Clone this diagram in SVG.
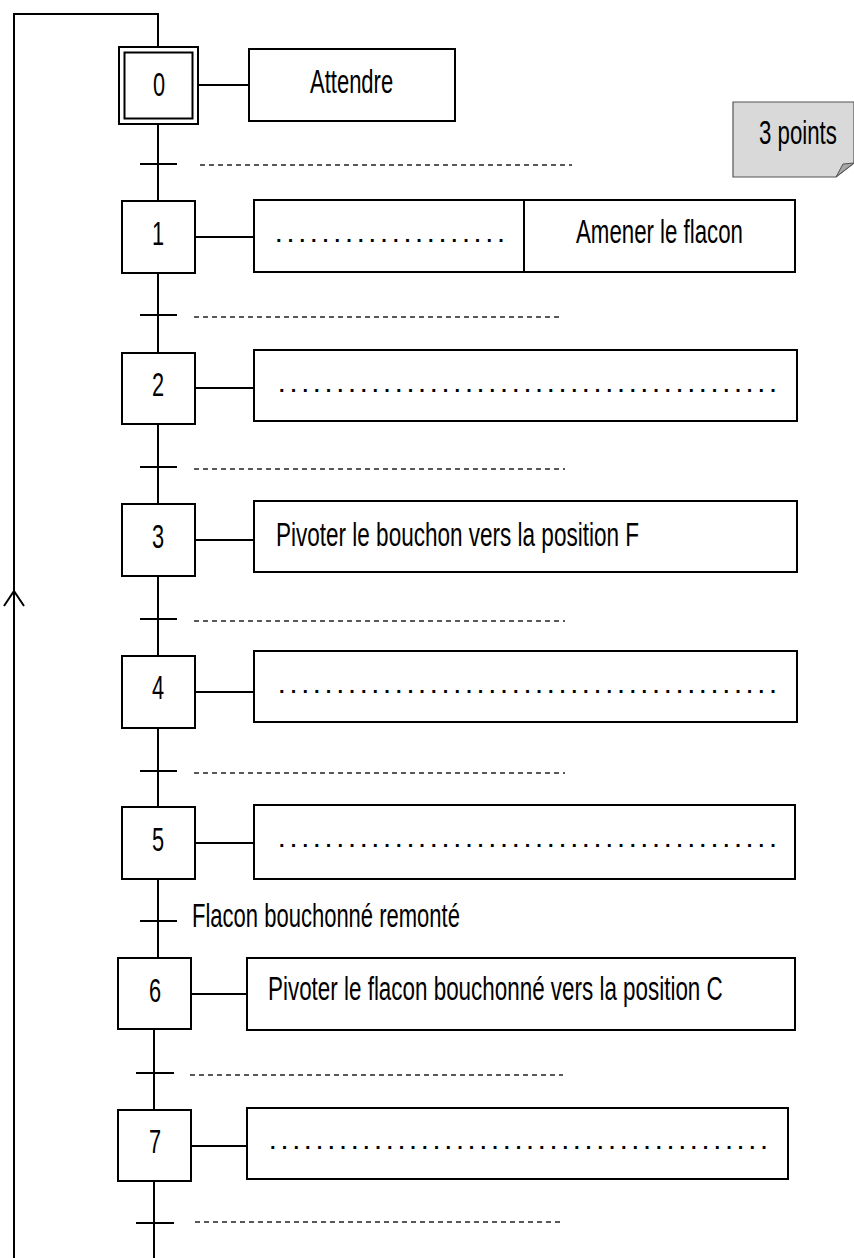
<svg xmlns="http://www.w3.org/2000/svg" width="854" height="1258" viewBox="0 0 854 1258">
<style>
.ln{fill:none;stroke:#000;stroke-width:2}
.bx{fill:#fff;stroke:#000;stroke-width:2}
.dash{fill:none;stroke:#222;stroke-width:1.3;stroke-dasharray:5 4}
.t{font-family:"Liberation Sans","DejaVu Sans",sans-serif;font-size:34px;fill:#000}
.num{font-family:"Liberation Sans","DejaVu Sans",sans-serif;font-size:33px;fill:#000;text-anchor:middle}
.dots{font-family:"Liberation Sans","DejaVu Sans",sans-serif;font-size:20px;font-weight:bold;fill:#000;letter-spacing:6.14px}
.lbl{font-family:"Liberation Sans","DejaVu Sans",sans-serif;font-size:33px;fill:#000}
</style>
<defs>
<marker id="arr" markerWidth="20" markerHeight="24" refX="17" refY="12" orient="auto" markerUnits="userSpaceOnUse" viewBox="0 0 20 24">
<path d="M2,2 L17,12 L2,22" fill="none" stroke="#000" stroke-width="2"/>
</marker>
</defs>
<g id="connectors">
<polyline class="ln" points="14,1258 14,14 158,14 158,47"/>
<line class="ln" x1="14" y1="900" x2="14" y2="591" marker-end="url(#arr)"/>
<line class="ln" x1="158" y1="124" x2="158" y2="201"/>
<line class="ln" x1="158" y1="273" x2="158" y2="353"/>
<line class="ln" x1="158" y1="424" x2="158" y2="504"/>
<line class="ln" x1="158" y1="576" x2="158" y2="656"/>
<line class="ln" x1="158" y1="728" x2="158" y2="807"/>
<line class="ln" x1="158" y1="879" x2="158" y2="958"/>
<line class="ln" x1="154" y1="1029" x2="154" y2="1110"/>
<line class="ln" x1="154" y1="1181" x2="154" y2="1258"/>
<line class="ln" x1="198" y1="85" x2="249" y2="85"/>
<line class="ln" x1="195" y1="237" x2="254" y2="237"/>
<line class="ln" x1="195" y1="388" x2="254" y2="388"/>
<line class="ln" x1="195" y1="540" x2="254" y2="540"/>
<line class="ln" x1="195" y1="692" x2="254" y2="692"/>
<line class="ln" x1="195" y1="843" x2="254" y2="843"/>
<line class="ln" x1="191" y1="994" x2="247" y2="994"/>
<line class="ln" x1="191" y1="1146" x2="247" y2="1146"/>
</g>
<g id="transitions">
<g id="t0"><line class="ln" x1="140" y1="164" x2="177" y2="164"/><line class="dash" x1="200" y1="165" x2="572" y2="165"/></g>
<g id="t1"><line class="ln" x1="140" y1="315" x2="177" y2="315"/><line class="dash" x1="194" y1="317" x2="563" y2="317"/></g>
<g id="t2"><line class="ln" x1="140" y1="467" x2="177" y2="467"/><line class="dash" x1="194" y1="469" x2="565" y2="469"/></g>
<g id="t3"><line class="ln" x1="140" y1="619" x2="177" y2="619"/><line class="dash" x1="194" y1="621" x2="565" y2="621"/></g>
<g id="t4"><line class="ln" x1="140" y1="771" x2="177" y2="771"/><line class="dash" x1="194" y1="773" x2="565" y2="773"/></g>
<g id="t5"><line class="ln" x1="140" y1="921" x2="177" y2="921"/><text class="lbl" transform="translate(192,927) scale(0.66,1)" textLength="406" lengthAdjust="spacingAndGlyphs">Flacon bouchonné remonté</text></g>
<g id="t6"><line class="ln" x1="136" y1="1073" x2="174" y2="1073"/><line class="dash" x1="190" y1="1075" x2="563" y2="1075"/></g>
<g id="t7"><line class="ln" x1="136" y1="1223" x2="174" y2="1223"/><line class="dash" x1="195" y1="1222" x2="563" y2="1222"/></g>
</g>
<g id="step0">
<rect class="bx" x="119" y="47" width="79" height="77"/>
<rect class="bx" x="124.5" y="52.5" width="68" height="66"/>
<text class="num" transform="translate(159,96) scale(0.66,1)">0</text>
</g>
<g id="action0">
<rect class="bx" x="249" y="49" width="206" height="72"/>
<text class="t" transform="translate(310,93) scale(0.66,1)" textLength="126" lengthAdjust="spacingAndGlyphs">Attendre</text>
</g>
<g id="note">
<path d="M733,102 L854,102 L854,163 L836,177 L733,177 Z" fill="#d9d9d9" stroke="#555" stroke-width="1.2"/>
<path d="M836,177 L843,164 L854,163 Z" fill="#a6a6a6" stroke="#555" stroke-width="1"/>
<text class="t" transform="translate(759,144) scale(0.66,1)" textLength="118" lengthAdjust="spacingAndGlyphs">3 points</text>
</g>
<g id="step1">
<rect class="bx" x="122" y="201" width="73" height="72"/>
<text class="num" transform="translate(158,245) scale(0.66,1)">1</text>
</g>
<g id="action1">
<rect class="bx" x="254" y="200" width="541" height="72"/>
<line class="ln" x1="524" y1="200" x2="524" y2="272"/>
<text class="dots" x="276" y="242">....................</text>
<text class="t" transform="translate(576,243) scale(0.66,1)" textLength="253" lengthAdjust="spacingAndGlyphs">Amener le flacon</text>
</g>
<g id="step2">
<rect class="bx" x="122" y="353" width="73" height="71"/>
<text class="num" transform="translate(158,396) scale(0.66,1)">2</text>
</g>
<g id="action2">
<rect class="bx" x="254" y="350" width="543" height="71"/>
<text class="dots" x="279" y="392">...........................................</text>
</g>
<g id="step3">
<rect class="bx" x="122" y="504" width="73" height="72"/>
<text class="num" transform="translate(158,548) scale(0.66,1)">3</text>
</g>
<g id="action3">
<rect class="bx" x="254" y="501" width="543" height="71"/>
<text class="t" transform="translate(276,546) scale(0.66,1)" textLength="550" lengthAdjust="spacingAndGlyphs">Pivoter le bouchon vers la position F</text>
</g>
<g id="step4">
<rect class="bx" x="122" y="656" width="73" height="72"/>
<text class="num" transform="translate(158,699) scale(0.66,1)">4</text>
</g>
<g id="action4">
<rect class="bx" x="254" y="651" width="543" height="71"/>
<text class="dots" x="279" y="693">...........................................</text>
</g>
<g id="step5">
<rect class="bx" x="122" y="807" width="73" height="72"/>
<text class="num" transform="translate(158,851) scale(0.66,1)">5</text>
</g>
<g id="action5">
<rect class="bx" x="254" y="805" width="541" height="74"/>
<text class="dots" x="279" y="847">...........................................</text>
</g>
<g id="step6">
<rect class="bx" x="118" y="958" width="73" height="71"/>
<text class="num" transform="translate(155,1002) scale(0.66,1)">6</text>
</g>
<g id="action6">
<rect class="bx" x="247" y="958" width="548" height="72"/>
<text class="t" transform="translate(268,1000) scale(0.66,1)" textLength="689" lengthAdjust="spacingAndGlyphs">Pivoter le flacon bouchonné vers la position C</text>
</g>
<g id="step7">
<rect class="bx" x="118" y="1110" width="73" height="71"/>
<text class="num" transform="translate(155,1153) scale(0.66,1)">7</text>
</g>
<g id="action7">
<rect class="bx" x="247" y="1108" width="541" height="71"/>
<text class="dots" x="270" y="1149">...........................................</text>
</g>
</svg>
